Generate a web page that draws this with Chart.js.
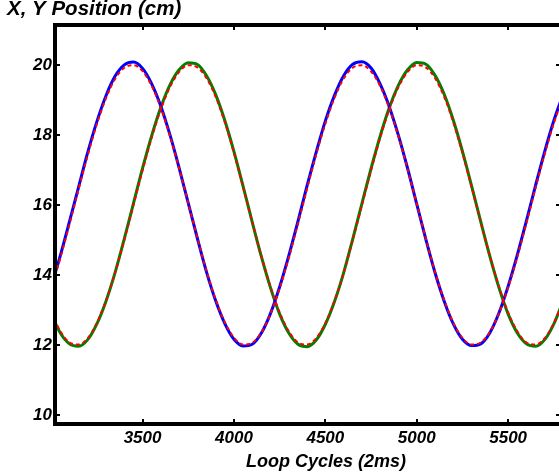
<!DOCTYPE html>
<html>
<head>
<meta charset="utf-8">
<script src="https://cdn.jsdelivr.net/npm/chart.js@4/dist/chart.umd.min.js"></script>
<style>
  html, body { margin: 0; padding: 0; background: #fff; overflow: hidden; }
  #wrap { width: 564px; height: 475px; }
</style>
</head>
<body>
<div id="wrap"><canvas id="grafico" width="564" height="475"></canvas></div>
<script>
// loop cycles sampled every 50
const ciclos = [3000,3050,3100,3150,3200,3250,3300,3350,3400,3450,3500,3550,3600,3650,3700,3750,3800,3850,3900,3950,
  4000,4050,4100,4150,4200,4250,4300,4350,4400,4450,4500,4550,4600,4650,4700,4750,4800,4850,4900,4950,
  5000,5050,5100,5150,5200,5250,5300,5350,5400,5450,5500,5550,5600,5650,5700,5750,5800];

// X position measured (blue)
const posX = [13.66,14.55,15.52,16.51,17.50,18.38,19.12,19.68,20.00,20.08,19.90,19.46,18.82,18.00,17.06,16.05,15.04,14.08,13.26,12.61,
  12.16,11.97,12.02,12.34,12.90,13.66,14.55,15.53,16.55,17.51,18.40,19.13,19.69,20.02,20.09,19.91,19.45,18.80,17.98,17.04,
  16.02,15.01,14.06,13.25,12.60,12.16,11.98,12.03,12.35,12.92,13.68,14.57,15.55,16.56,17.53,18.41,19.15];

// Y position measured (green)
const posY = [12.88,12.34,12.03,11.96,12.15,12.60,13.25,14.07,15.03,16.04,17.05,17.98,18.79,19.43,19.86,20.06,20.01,19.69,19.15,18.41,
  17.52,16.53,15.51,14.52,13.63,12.88,12.34,12.02,11.95,12.14,12.59,13.24,14.06,15.03,16.04,17.04,17.97,18.78,19.42,19.86,
  20.07,20.02,19.70,19.16,18.42,17.53,16.54,15.52,14.53,13.63,12.88,12.34,12.03,11.96,12.15,12.60,13.25];

// references (red dashed)
const refX = [13.60,14.48,15.44,16.45,17.42,18.31,19.05,19.60,19.92,19.99,19.82,19.40,18.77,17.97,17.04,16.05,15.05,14.11,13.29,12.65,
  12.21,12.01,12.06,12.36,12.89,13.62,14.49,15.46,16.47,17.44,18.32,19.06,19.61,19.92,19.99,19.81,19.39,18.76,17.95,17.02,
  16.03,15.03,14.09,13.28,12.63,12.20,12.01,12.07,12.37,12.91,13.64,14.51,15.48,16.49,17.46,18.34,19.08];
const refY = [12.92,12.39,12.07,12.01,12.19,12.62,13.26,14.06,15.00,15.99,16.99,17.92,18.73,19.37,19.80,19.99,19.93,19.62,19.09,18.36,
  17.48,16.51,15.51,14.54,13.66,12.92,12.39,12.07,12.01,12.19,12.62,13.26,14.06,15.00,15.99,16.99,17.92,18.73,19.37,19.80,
  19.99,19.93,19.62,19.09,18.36,17.48,16.51,15.51,14.54,13.66,12.92,12.39,12.07,12.01,12.19,12.62,13.26];

const ticksX = [3500, 4000, 4500, 5000, 5500];
const ticksY = [10, 12, 14, 16, 18, 20];

const tituloY = 'X, Y Position (cm)';
const tituloX = 'Loop Cycles (2ms)';

const puntos = (arr) => arr.map((v, i) => ({ x: ciclos[i], y: v }));

const familia = '"Liberation Sans", Arial, sans-serif';

// marco negro estilo matlab con ticks hacia dentro + titulos
const marcoMatlab = {
  id: 'marcoMatlab',
  afterDraw(chart) {
    const { ctx, chartArea: a, scales } = chart;
    ctx.save();
    ctx.strokeStyle = '#000';
    ctx.lineWidth = 4;
    ctx.strokeRect(a.left, a.top, a.right - a.left, a.bottom - a.top);
    ctx.lineWidth = 2;
    ctx.beginPath();
    ticksX.forEach((t) => {
      const px = Math.round(scales.x.getPixelForValue(t));
      ctx.moveTo(px, a.bottom); ctx.lineTo(px, a.bottom - 5);
      ctx.moveTo(px, a.top); ctx.lineTo(px, a.top + 5);
    });
    ticksY.forEach((t) => {
      const py = Math.round(scales.y.getPixelForValue(t));
      ctx.moveTo(a.left, py); ctx.lineTo(a.left + 5, py);
      ctx.moveTo(a.right, py); ctx.lineTo(a.right - 5, py);
    });
    ctx.stroke();
    ctx.fillStyle = '#000';
    ctx.textBaseline = 'alphabetic';
    ctx.font = 'bold italic 20.5px ' + familia;
    ctx.textAlign = 'left';
    ctx.fillText(tituloY, 7, 15);
    ctx.font = 'bold italic 18px ' + familia;
    ctx.textAlign = 'center';
    ctx.fillText(tituloX, 326, 467);
    ctx.restore();
  }
};

const serie = (label, data, color, ancho, dash, orden) => ({
  label, data: puntos(data), borderColor: color, backgroundColor: color,
  borderWidth: ancho, borderDash: dash, pointRadius: 0, fill: false,
  cubicInterpolationMode: 'monotone', order: orden
});

new Chart(document.getElementById('grafico'), {
  type: 'line',
  data: {
    datasets: [
      serie('X ref', refX, '#ff0000', 2, [4, 3], 0),
      serie('Y ref', refY, '#ff0000', 2, [4, 3], 0),
      serie('X', posX, '#0000ff', 3, [], 1),
      serie('Y', posY, '#008000', 3, [], 1)
    ]
  },
  options: {
    responsive: false,
    animation: false,
    layout: { padding: { top: 25, right: 3, left: 0, bottom: 0 } },
    plugins: { legend: { display: false }, tooltip: { enabled: false } },
    scales: {
      x: {
        type: 'linear', min: 3021, max: 5789,
        grid: { display: false, drawTicks: false }, border: { display: false },
        afterBuildTicks: (s) => { s.ticks = ticksX.map((v) => ({ value: v })); },
        afterFit: (s) => { s.height = 51; },
        ticks: { color: '#000', padding: 4, maxRotation: 0, callback: (v) => String(v),
          font: { family: familia, size: 17, weight: 'bold', style: 'italic' } }
      },
      y: {
        type: 'linear', min: 9.74, max: 21.14,
        grid: { display: false, drawTicks: false }, border: { display: false },
        afterBuildTicks: (s) => { s.ticks = ticksY.map((v) => ({ value: v })); },
        afterFit: (s) => { s.width = 55; },
        ticks: { color: '#000', padding: 3, callback: (v) => String(v),
          font: { family: familia, size: 17, weight: 'bold', style: 'italic' } }
      }
    }
  },
  plugins: [marcoMatlab]
});
</script>
</body>
</html>
